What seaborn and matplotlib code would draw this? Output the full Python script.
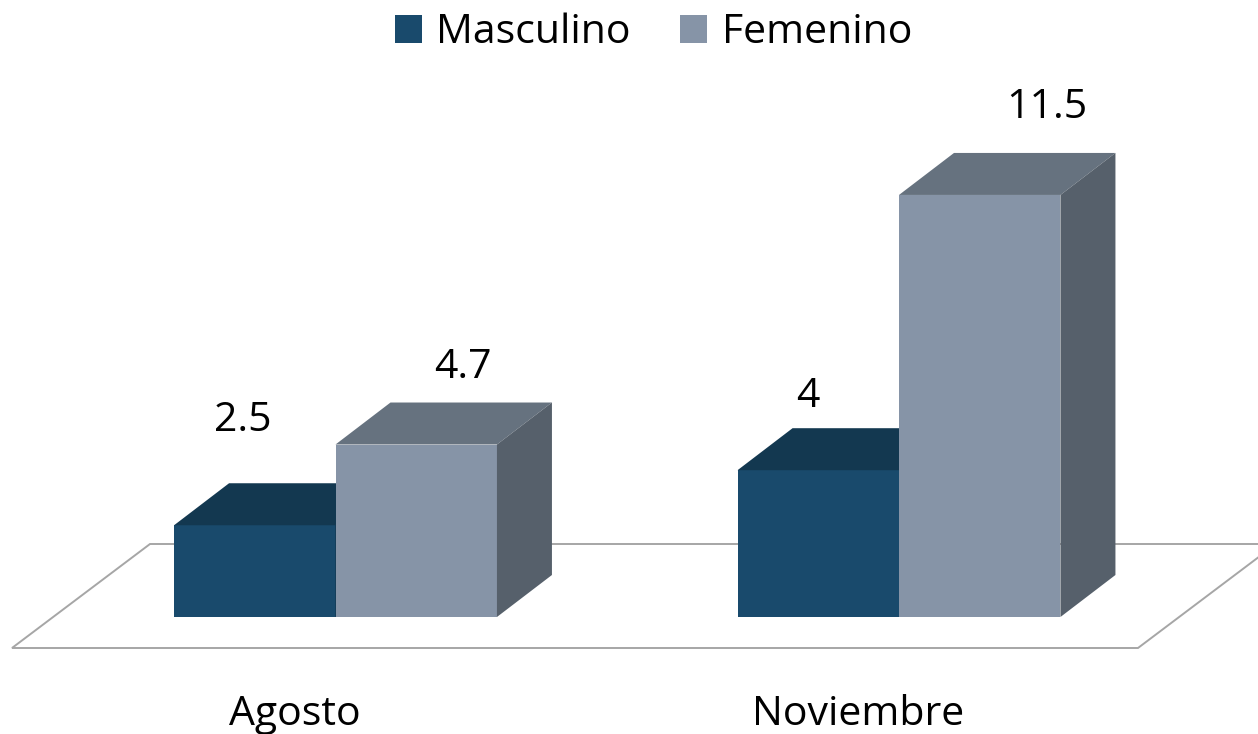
import matplotlib
matplotlib.use("Agg")
import matplotlib.pyplot as plt
from matplotlib.patches import Polygon, Patch
import seaborn as sns
import pandas as pd

# ---- data ----
months = ["Agosto", "Noviembre"]
series = ["Masculino", "Femenino"]
masculino = [2.5, 4.0]
femenino = [4.7, 11.5]
value_labels_m = ["2.5", "4"]
value_labels_f = ["4.7", "11.5"]

df = pd.DataFrame({
    "Mes": months * 2,
    "Sexo": [series[0]] * len(months) + [series[1]] * len(months),
    "Valor": masculino + femenino,
})

# ---- style / layout ----
W, H, DPI = 1258, 734, 100
FRONT = {"Masculino": "#194a6c", "Femenino": "#8694a7"}
TOP = {"Masculino": "#133850", "Femenino": "#66727f"}
SIDE = {"Masculino": "#12334a", "Femenino": "#56606b"}
FONT = ["Open Sans", "DejaVu Sans"]
FS = 29.5

sns.set_theme(style="white")
plt.rcParams["font.family"] = FONT
plt.rcParams["text.color"] = "black"

fig = plt.figure(figsize=(W / DPI, H / DPI), dpi=DPI)
ax = fig.add_axes([0, 0, 1, 1])

# pixel mapping (base line at y=617 px, 36.7 px per unit; group centres 335.5 / 899 px)
BASE_PX, PX_PER_UNIT = 617, 36.7
X0_PX, PX_PER_CAT = 335.5, 563.5


def px2data(xp, yp):
    return ((xp - X0_PX) / PX_PER_CAT, (BASE_PX - yp) / PX_PER_UNIT)


DX = 55 / PX_PER_CAT
DY = 42 / PX_PER_UNIT

sns.barplot(data=df, x="Mes", y="Valor", hue="Sexo", hue_order=series,
            order=months, palette=FRONT, saturation=1, width=0.573,
            linewidth=0, legend=False, ax=ax)
ax.set_xlim(-X0_PX / PX_PER_CAT, (W - X0_PX) / PX_PER_CAT)
ax.set_ylim(-(H - BASE_PX) / PX_PER_UNIT, BASE_PX / PX_PER_UNIT)

# floor
floor_px = [(12, 648), (1138, 648), (1276, 544), (150, 544)]
ax.add_patch(Polygon([px2data(*p) for p in floor_px], closed=True,
                     facecolor="white", edgecolor="#a6a6a6", linewidth=1.4,
                     zorder=0.5))

# 3-D faces
label_offsets = {  # pixel offsets of the value labels (dx, baseline rise)
    "Masculino": [(-12, 94), (-10, 63)],
    "Femenino": [(47, 67), (67, 77)],
}
label_text = {"Masculino": value_labels_m, "Femenino": value_labels_f}
for k, (name, cont) in enumerate(zip(series, ax.containers)):
    z = 2 + k
    for i, bar in enumerate(cont.patches):
        bar.set_zorder(z)
        x0 = bar.get_x()
        x1 = x0 + bar.get_width()
        h = bar.get_height()
        top = [(x0, h), (x1, h), (x1 + DX, h + DY), (x0 + DX, h + DY)]
        side = [(x1, 0), (x1 + DX, DY), (x1 + DX, h + DY), (x1, h)]
        ax.add_patch(Polygon(top, closed=True, facecolor=TOP[name],
                             edgecolor="none", zorder=z))
        ax.add_patch(Polygon(side, closed=True, facecolor=SIDE[name],
                             edgecolor="none", zorder=z))
        ox, oy = label_offsets[name][i]
        ax.annotate(label_text[name][i], xy=(x0 + bar.get_width() / 2, h),
                    xytext=(ox, oy), textcoords="offset pixels",
                    ha="center", va="baseline", fontsize=FS, color="black",
                    zorder=10)

# category labels
for i, m in enumerate(months):
    ax.annotate(m, xy=(i, 0), xytext=(-41, -(725 - BASE_PX)),
                textcoords="offset pixels", ha="center", va="baseline",
                fontsize=FS, color="black")

ax.axis("off")

handles = [Patch(facecolor=FRONT[s], edgecolor="none", label=s) for s in series]
fig.legend(handles=handles, loc="center", ncol=2, frameon=False,
           bbox_to_anchor=((394 + 913) / 2 / W, 1 - 33 / H),
           fontsize=FS, handlelength=0.65, handleheight=0.65,
           handletextpad=0.36, columnspacing=1.2, labelcolor="black")

fig.savefig("out.png", dpi=DPI)
